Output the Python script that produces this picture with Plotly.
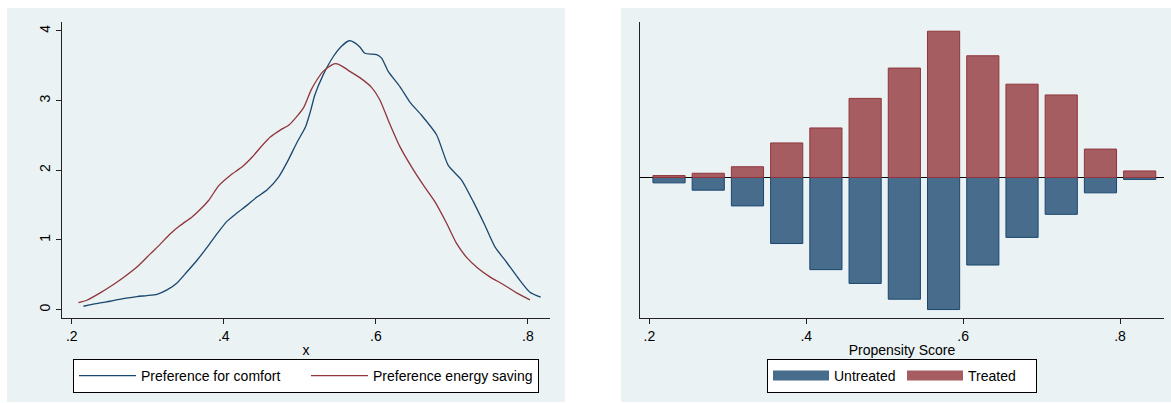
import plotly.graph_objects as go

W, H = 1171, 403

# ---------------- data ----------------
# Left panel: kernel densities
comfort_x = [0.2154, 0.2374, 0.2505, 0.2659, 0.2857, 0.2989, 0.3121, 0.3253, 0.3385, 0.3495,
             0.3648, 0.3802, 0.3912, 0.4044, 0.4176, 0.4308, 0.4440, 0.4571, 0.4725, 0.4835,
             0.4967, 0.5077, 0.5143, 0.5197, 0.5307, 0.5439, 0.5548, 0.5649, 0.5724, 0.5789,
             0.5855, 0.6009, 0.6075, 0.6162, 0.6316, 0.6447, 0.6601, 0.6798, 0.6952, 0.7127,
             0.7281, 0.7434, 0.7566, 0.7719, 0.7873, 0.8026, 0.8167]
comfort_y = [0.048, 0.096, 0.12, 0.153, 0.187, 0.201, 0.22, 0.283, 0.383, 0.517,
             0.709, 0.925, 1.09, 1.27, 1.39, 1.50, 1.62, 1.72, 1.91, 2.12,
             2.41, 2.63, 2.86, 3.08, 3.37, 3.63, 3.78, 3.86, 3.83, 3.77,
             3.68, 3.66, 3.61, 3.42, 3.20, 2.98, 2.79, 2.51, 2.07, 1.86,
             1.55, 1.21, 0.90, 0.68, 0.45, 0.25, 0.18]

saving_x = [0.2088, 0.2198, 0.2374, 0.2549, 0.2681, 0.2857, 0.3033, 0.3165, 0.3297, 0.3429,
            0.3582, 0.3692, 0.3802, 0.3934, 0.4088, 0.4242, 0.4374, 0.4484, 0.4615, 0.4747,
            0.4857, 0.4967, 0.5055, 0.5143, 0.5197, 0.5307, 0.5417, 0.5474, 0.5548, 0.5658,
            0.5789, 0.5943, 0.6053, 0.6162, 0.6316, 0.6469, 0.6623, 0.6776, 0.6930, 0.7061,
            0.7193, 0.7346, 0.7500, 0.7675, 0.7851, 0.8026]
saving_y = [0.10, 0.134, 0.24, 0.36, 0.46, 0.61, 0.80, 0.94, 1.09, 1.21,
            1.33, 1.44, 1.57, 1.78, 1.93, 2.05, 2.19, 2.33, 2.48, 2.58,
            2.65, 2.78, 2.91, 3.14, 3.25, 3.42, 3.51, 3.53, 3.50, 3.42,
            3.33, 3.19, 3.01, 2.72, 2.34, 2.05, 1.79, 1.55, 1.24, 0.95,
            0.75, 0.59, 0.47, 0.36, 0.24, 0.14]

# Right panel: propensity score histogram (density), bins of width .05
bin_centers = [0.225, 0.275, 0.325, 0.375, 0.425, 0.475, 0.525,
               0.575, 0.625, 0.675, 0.725, 0.775, 0.825]
treated = [0.05, 0.11, 0.28, 0.90, 1.29, 2.06, 2.85, 3.81, 3.17, 2.43, 2.15, 0.74, 0.17]
untreated = [0.14, 0.33, 0.74, 1.72, 2.40, 2.76, 3.17, 3.44, 2.28, 1.56, 0.96, 0.40, 0.05]

x_ticks = [0.2, 0.4, 0.6, 0.8]
x_ticklabels = [".2", ".4", ".6", ".8"]
y_ticks_left = [0, 1, 2, 3, 4]
y_ticklabels_left = ["0", "1", "2", "3", "4"]

# ---------------- style ----------------
NAVY = "#1A476F"
MAROON = "#90353B"
NAVY_FILL = "#486C8C"
MAROON_FILL = "#A65D62"
BG = "#EAF2F3"
AXC = "#222222"
FONT = "Arial, 'Liberation Sans', sans-serif"


def px(xp):
    return xp / W


def py(yp):
    return 1 - yp / H


fig = go.Figure()

fig.add_trace(go.Scatter(x=comfort_x, y=comfort_y, mode="lines", name="Preference for comfort",
                         line=dict(color=NAVY, width=1.3, shape="spline", smoothing=0.6),
                         xaxis="x", yaxis="y", legend="legend"))
fig.add_trace(go.Scatter(x=saving_x, y=saving_y, mode="lines", name="Preference energy saving",
                         line=dict(color=MAROON, width=1.3, shape="spline", smoothing=0.6),
                         xaxis="x", yaxis="y", legend="legend"))

fig.add_trace(go.Bar(x=bin_centers, y=[-v for v in untreated], name="Untreated", width=0.041,
                     marker=dict(color=NAVY_FILL, line=dict(color=NAVY, width=1)),
                     xaxis="x2", yaxis="y2", legendgroup="untreated", showlegend=False))
fig.add_trace(go.Bar(x=bin_centers, y=treated, name="Treated", width=0.041,
                     marker=dict(color=MAROON_FILL, line=dict(color=MAROON, width=1)),
                     xaxis="x2", yaxis="y2", legendgroup="treated", showlegend=False))
# legend swatches (wide rectangles, as in the original legend)
fig.add_trace(go.Scatter(x=[None], y=[None], mode="lines", name="Untreated",
                         line=dict(color=NAVY_FILL, width=14),
                         xaxis="x2", yaxis="y2", legend="legend2", legendgroup="untreated"))
fig.add_trace(go.Scatter(x=[None], y=[None], mode="lines", name="Treated",
                         line=dict(color=MAROON_FILL, width=14),
                         xaxis="x2", yaxis="y2", legend="legend2", legendgroup="treated"))

axis_common = dict(showline=True, linecolor=AXC, linewidth=1, ticks="outside", ticklen=5,
                   tickcolor=AXC, tickwidth=1, tickfont=dict(size=14, color="black", family=FONT),
                   zeroline=False, showgrid=False, fixedrange=True)

fig.update_layout(
    width=W, height=H,
    margin=dict(l=0, r=0, t=0, b=0),
    paper_bgcolor="white", plot_bgcolor="white",
    font=dict(family=FONT, size=14, color="black"),
    barmode="overlay",
    xaxis=dict(domain=[px(62), px(550)], range=[0.1872, 0.829], anchor="y",
               tickvals=x_ticks, ticktext=x_ticklabels,
               title=dict(text="x", font=dict(size=14), standoff=2), **axis_common),
    yaxis=dict(domain=[py(318), py(22)], range=[-0.1206, 4.129], anchor="x",
               tickvals=y_ticks_left, ticktext=y_ticklabels_left, tickangle=-90,
               **{**axis_common, "showgrid": True}, gridcolor=BG, gridwidth=1),
    xaxis2=dict(domain=[px(640), px(1164)], range=[0.188, 0.856], anchor="y2",
                tickvals=x_ticks, ticktext=x_ticklabels,
                title=dict(text="Propensity Score", font=dict(size=14), standoff=2), **axis_common),
    yaxis2=dict(domain=[py(318), py(22)], range=[-3.66, 4.05], anchor="x2",
                showticklabels=False, **{**axis_common, "ticks": "", "zeroline": True},
                zerolinecolor="black", zerolinewidth=1),
    legend=dict(orientation="h", x=px(306), xanchor="center", y=py(376), yanchor="middle",
                bgcolor="white", bordercolor="black", borderwidth=1, traceorder="normal",
                font=dict(size=14), entrywidth=160, itemwidth=57),
    legend2=dict(orientation="h", x=px(902), xanchor="center", y=py(376), yanchor="middle",
                 bgcolor="white", bordercolor="black", borderwidth=1, traceorder="normal",
                 font=dict(size=14), entrywidth=63, itemwidth=56),
    shapes=[
        dict(type="rect", xref="paper", yref="paper", x0=px(7), x1=px(565), y0=py(402), y1=py(8),
             fillcolor=BG, line=dict(width=0), layer="below"),
        dict(type="rect", xref="paper", yref="paper", x0=px(621), x1=px(1171), y0=py(402), y1=py(8),
             fillcolor=BG, line=dict(width=0), layer="below"),
    ],
)

fig.write_html("out.html")
